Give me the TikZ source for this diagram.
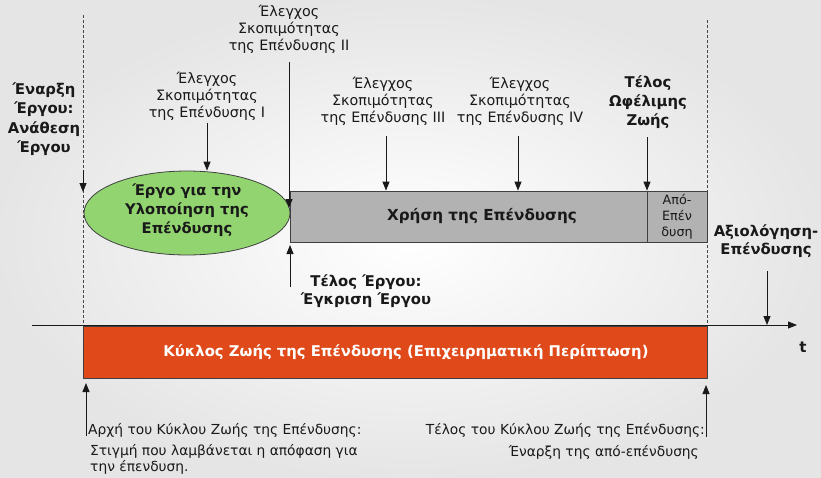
\documentclass[tikz,border=0pt]{standalone}
\usepackage{fontspec}
\setmainfont{DejaVu Sans}
\usetikzlibrary{arrows.meta,shapes.geometric}
\definecolor{redbar}{RGB}{224,74,26}
\definecolor{greenell}{RGB}{146,212,112}
\definecolor{greybox}{RGB}{178,178,178}
\definecolor{edge}{RGB}{64,64,64}
\definecolor{ink}{RGB}{25,25,25}
\begin{document}
\begin{tikzpicture}[x=1pt,y=-1pt,
  arr/.style={-{Triangle[length=9pt,width=7pt]}, line width=0.9pt, draw=ink},
  dashline/.style={densely dashed, line width=0.8pt, draw=ink!80},
  reg/.style={font=\fontsize{14.3}{17}\selectfont, align=center, inner sep=0pt, text=ink},
  bld/.style={font=\bfseries\fontsize{14.8}{19}\selectfont, align=center, inner sep=0pt, text=ink},
  small/.style={font=\fontsize{13.8}{16}\selectfont, inner sep=0pt, text=ink},
]
\useasboundingbox (0,0) rectangle (821,477);
\shade[inner color=white, outer color=black!10, shading=radial] (0,0) rectangle (821,477);

% dashed vertical lines
\coordinate (dlt) at (83,15);
\coordinate (dlm) at (83,192);
\coordinate (dlb) at (83,325);
\coordinate (drt) at (707,20);
\coordinate (drb) at (707,325);
\draw[dashline] (dlt) -- (dlb);
\draw[arr] (83,170) -- (dlm);
\draw[dashline] (drt) -- (drb);

% axis
\coordinate (ax0) at (32,325);
\coordinate (ax1) at (797,325);
\draw[arr] (ax0) -- (ax1);
\node[font=\bfseries\fontsize{15}{16}\selectfont, inner sep=0pt, text=ink] (tlab) at (803,347) {t};

% red life cycle bar
\node[draw=edge, line width=0.8pt, fill=redbar, minimum width=624pt, minimum height=52pt, inner sep=0pt] (life) at (395,352) {};
\node[font=\bfseries\fontsize{14.8}{16}\selectfont, text=white, inner sep=0pt] (lifelab) at (406,352)
  {Κύκλος Ζωής της Επένδυσης (Επιχειρηματική Περίπτωση)};

% grey usage rect
\node[draw=edge, line width=0.8pt, fill=greybox, minimum width=357pt, minimum height=51pt, inner sep=0pt] (use) at (468.5,216.5) {};
\node[font=\bfseries\fontsize{15.2}{16}\selectfont, inner sep=0pt, text=ink] (uselab) at (482,216) {Χρήση της Επένδυσης};
\node[draw=edge, line width=0.8pt, fill=greybox, minimum width=60pt, minimum height=51pt, inner sep=0pt,
      font=\fontsize{12.8}{16}\selectfont, align=center, text=ink] (disinv) at (677,216.5) {Από-\\Επέν\\δυση};

% green ellipse
\node[ellipse, draw=edge, line width=0.8pt, fill=greenell, minimum width=206pt, minimum height=84pt, inner sep=0pt] (proj) at (187,213) {};
\node[font=\bfseries\fontsize{14.7}{19}\selectfont, align=center, inner sep=0pt, text=ink] (projlab) at (187,210)
  {Έργο για την\\Υλοποίηση της\\Επένδυσης};

% start label
\node[bld, font=\bfseries\fontsize{14.8}{19.5}\selectfont] (start) at (44,119) {Έναρξη\\Έργου:\\Ανάθεση\\Έργου};

% checks
\node[reg] (chk1) at (207,96) {Έλεγχος\\Σκοπιμότητας\\της Επένδυσης I};
\draw[arr] (207,123) coordinate (c1s) -- (c1s |- proj.north);

\node[reg] (chk2) at (289,29) {Έλεγχος\\Σκοπιμότητας\\της Επένδυσης II};
\coordinate (c2e) at (289,208);
\draw[arr] (289,62) coordinate (c2s) -- (c2e);

\node[reg] (chk3) at (383,101) {Έλεγχος\\Σκοπιμότητας\\της Επένδυσης III};
\draw[arr] (386,136) coordinate (c3s) -- (c3s |- use.north);

\node[reg] (chk4) at (520,101) {Έλεγχος\\Σκοπιμότητας\\της Επένδυσης IV};
\draw[arr] (518,136) coordinate (c4s) -- (c4s |- use.north);

% end of useful life
\node[bld] (endlife) at (648,102) {Τέλος\\Ωφέλιμης\\Ζωής};
\draw[arr] (647,137) coordinate (c5s) -- (c5s |- use.north);

% end of project
\node[bld, font=\bfseries\fontsize{14.8}{18}\selectfont] (endproj) at (366,291) {Τέλος Έργου:\\Έγκριση Έργου};
\coordinate (c6e) at (290,245);
\draw[arr] (290,287) coordinate (c6s) -- (c6e);

% evaluation
\node[bld, font=\bfseries\fontsize{14.8}{18}\selectfont] (eval) at (766,241) {Αξιολόγηση-\\Επένδυσης};
\coordinate (c7e) at (767,325);
\draw[arr] (767,271) coordinate (c7s) -- (c7e);

% bottom left
\coordinate (bl0) at (86,436);
\draw[arr] (bl0) -- (86,383);
\node[small, anchor=west] (bltxt1) at (88,430) {Αρχή του Κύκλου Ζωής της Επένδυσης:};
\node[small, anchor=north west, align=left] (bltxt2) at (90,444) {Στιγμή που λαμβάνεται η απόφαση για\\την έπενδυση.};

% bottom right
\coordinate (br0) at (706,437);
\draw[arr] (br0) -- (706,385);
\node[small, anchor=east] (brtxt1) at (705,430) {Τέλος του Κύκλου Ζωής της Επένδυσης:};
\node[small, anchor=east] (brtxt2) at (699,452) {Έναρξη της από-επένδυσης};
\end{tikzpicture}
\end{document}
